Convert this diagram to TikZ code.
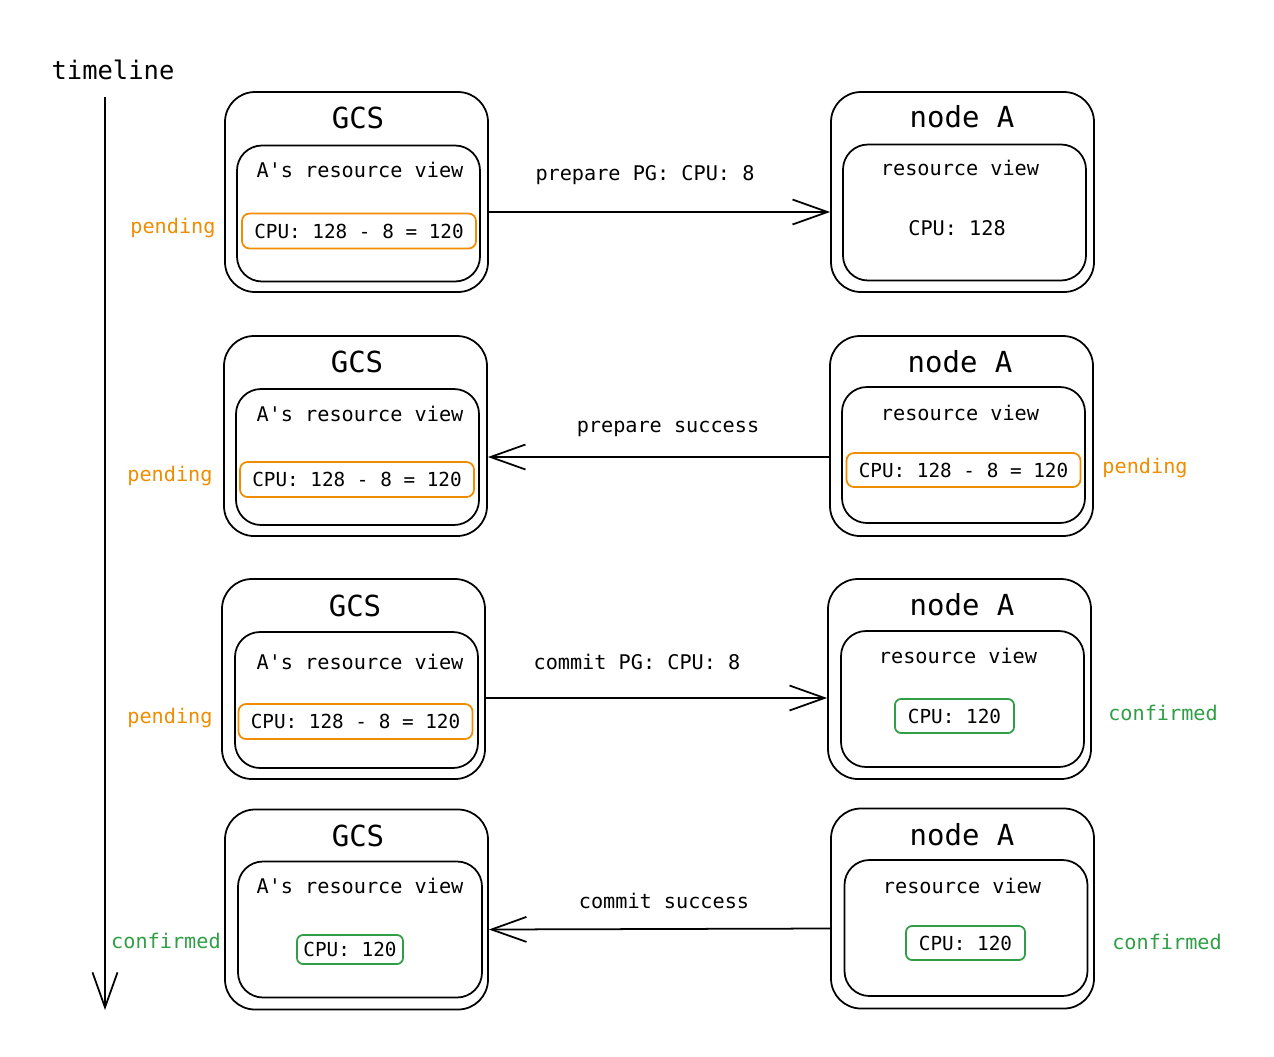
\documentclass[tikz,border=0pt]{standalone}
\usepackage{fontspec}
\setmonofont{DejaVu Sans Mono}
\usetikzlibrary{arrows.meta}

\definecolor{pendorange}{HTML}{F08C00}
\definecolor{okgreen}{HTML}{2F9E44}

\tikzset{
    outerbox/.style={draw, line width=1pt, rounded corners=0.6cm, minimum width=5.26cm, minimum height=4cm, inner sep=0pt},
    innerbox/.style={draw, line width=1pt, rounded corners=0.5cm, minimum width=4.86cm, minimum height=2.72cm, inner sep=0pt},
    titletext/.style={font=\ttfamily\fontsize{16.5}{18}\selectfont},
    viewtext/.style={font=\ttfamily\fontsize{11.5}{13}\selectfont},
    pendbox/.style={draw=pendorange, line width=1pt, rounded corners=0.15cm, minimum width=4.68cm, minimum height=0.7cm, inner sep=0pt, font=\ttfamily\fontsize{11}{13}\selectfont},
    okbox/.style={draw=okgreen, line width=1pt, rounded corners=0.12cm, minimum width=2.38cm, minimum height=0.68cm, inner sep=0pt, font=\ttfamily\fontsize{11}{13}\selectfont},
    pendtext/.style={text=pendorange, font=\ttfamily\fontsize{11.5}{13}\selectfont},
    oktext/.style={text=okgreen, font=\ttfamily\fontsize{11.5}{13}\selectfont},
    msg/.style={line width=1pt, -{Straight Barb[length=7mm, width=5mm, line width=1pt]}},
}

\begin{document}
\begin{tikzpicture}
    \useasboundingbox (0,0) rectangle (25.48,-21.12);

    % timeline
    \node[font=\ttfamily\fontsize{14.5}{16}\selectfont] (tl) at (2.26,-1.4) {timeline};
    \coordinate (tltop) at (2.1,-1.94);
    \coordinate (tlend) at (2.1,-20.2);
    \draw[msg] (tltop) -- (tlend);

    % step 1: prepare
    \node[outerbox] (gcs1) at (7.13,-3.84) {};
    \node[titletext] (gcs1t) at (7.16,-2.36) {GCS};
    \node[innerbox] (gcs1v) at (7.17,-4.27) {};
    \node[viewtext] (gcs1l) at (7.2,-3.4) {A's resource view};
    \node[pendbox] (gcs1c) at (7.18,-4.62) {CPU: 128 - 8 = 120};
    \node[pendtext] (gcs1s) at (3.46,-4.56) {pending};

    \node[outerbox] (na1) at (19.25,-3.84) {};
    \node[titletext] (na1t) at (19.24,-2.34) {node A};
    \node[innerbox] (na1v) at (19.29,-4.25) {};
    \node[viewtext] (na1l) at (19.2,-3.36) {resource view};
    \node[viewtext] (na1c) at (19.14,-4.56) {CPU: 128};

    \draw[msg] ([yshift=-0.4cm]gcs1.east) -- ([yshift=-0.4cm]na1.west);
    \node[viewtext] (m1) at (12.9,-3.5) {prepare PG: CPU: 8};

    % step 2: prepare success
    \node[outerbox] (gcs2) at (7.11,-8.72) {};
    \node[titletext] (gcs2t) at (7.14,-7.24) {GCS};
    \node[innerbox] (gcs2v) at (7.15,-9.14) {};
    \node[viewtext] (gcs2l) at (7.2,-8.28) {A's resource view};
    \node[pendbox] (gcs2c) at (7.14,-9.59) {CPU: 128 - 8 = 120};
    \node[pendtext] (gcs2s) at (3.4,-9.52) {pending};

    \node[outerbox] (na2) at (19.23,-8.72) {};
    \node[titletext] (na2t) at (19.2,-7.24) {node A};
    \node[innerbox] (na2v) at (19.27,-9.1) {};
    \node[viewtext] (na2l) at (19.2,-8.26) {resource view};
    \node[pendbox, minimum height=0.68cm] (na2c) at (19.27,-9.4) {CPU: 128 - 8 = 120};
    \node[pendtext] (na2s) at (22.9,-9.36) {pending};

    \draw[msg] ([yshift=-0.42cm]na2.west) -- ([yshift=-0.42cm]gcs2.east);
    \node[viewtext] (m2) at (13.36,-8.58) {prepare success};

    % step 3: commit
    \node[outerbox] (gcs3) at (7.07,-13.58) {};
    \node[titletext] (gcs3t) at (7.1,-12.12) {GCS};
    \node[innerbox] (gcs3v) at (7.13,-14.0) {};
    \node[viewtext] (gcs3l) at (7.2,-13.24) {A's resource view};
    \node[pendbox] (gcs3c) at (7.11,-14.43) {CPU: 128 - 8 = 120};
    \node[pendtext] (gcs3s) at (3.4,-14.36) {pending};

    \node[outerbox] (na3) at (19.19,-13.58) {};
    \node[titletext] (na3t) at (19.24,-12.1) {node A};
    \node[innerbox] (na3v) at (19.25,-13.98) {};
    \node[viewtext] (na3l) at (19.16,-13.12) {resource view};
    \node[okbox] (na3c) at (19.09,-14.32) {CPU: 120};
    \node[oktext] (na3s) at (23.26,-14.26) {confirmed};

    \draw[msg] ([yshift=-0.38cm]gcs3.east) -- ([yshift=-0.38cm]na3.west);
    \node[viewtext] (m3) at (12.74,-13.24) {commit PG: CPU: 8};

    % step 4: commit success
    \node[outerbox] (gcs4) at (7.13,-18.19) {};
    \node[titletext] (gcs4t) at (7.16,-16.72) {GCS};
    \node[innerbox, minimum width=4.88cm] (gcs4v) at (7.2,-18.59) {};
    \node[viewtext] (gcs4l) at (7.2,-17.72) {A's resource view};
    \node[okbox, minimum width=2.12cm, minimum height=0.58cm] (gcs4c) at (7.0,-18.99) {CPU: 120};
    \node[oktext] (gcs4s) at (3.32,-18.82) {confirmed};

    \node[outerbox] (na4) at (19.25,-18.17) {};
    \node[titletext] (na4t) at (19.24,-16.7) {node A};
    \node[innerbox] (na4v) at (19.32,-18.56) {};
    \node[viewtext] (na4l) at (19.24,-17.72) {resource view};
    \node[okbox] (na4c) at (19.31,-18.86) {CPU: 120};
    \node[oktext] (na4s) at (23.34,-18.84) {confirmed};

    \draw[msg] ([yshift=-0.4cm]na4.west) -- ([yshift=-0.4cm]gcs4.east);
    \node[viewtext] (m4) at (13.28,-18.02) {commit success};
\end{tikzpicture}
\end{document}
